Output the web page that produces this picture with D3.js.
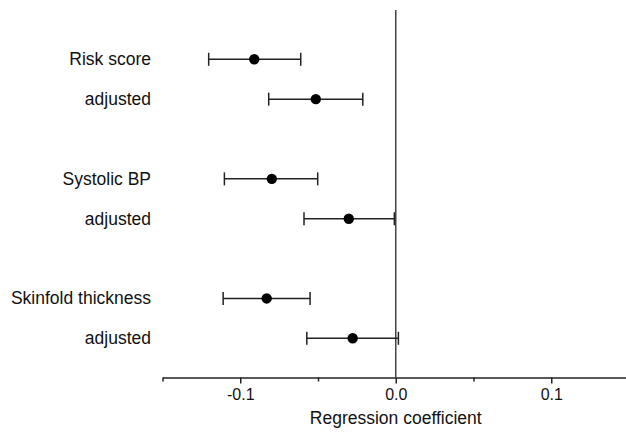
<!DOCTYPE html>
<html>
<head>
  <meta charset="UTF-8">
  <title>Regression coefficients</title>
  <style>
    body {
      margin: 0;
      padding: 0;
      background: #fff;
      font-family: "Liberation Sans", Arial, sans-serif;
    }
    svg {
      display: block;
    }
  </style>
</head>
<body>
  <svg></svg>

  <script src="https://d3js.org/d3.v7.min.js"></script>
  <script>
    let width = 626, height = 435;

    // data
    let labels = ["Risk score", "adjusted", "Systolic BP", "adjusted", "Skinfold thickness", "adjusted"];
    let slots = [0, 1, 3, 4, 6, 7];   // row positions, a blank row between groups
    let estimate = [-0.091, -0.0514, -0.0797, -0.0302, -0.083, -0.0277];
    let lower = [-0.1203, -0.0817, -0.1102, -0.059, -0.111, -0.0572];
    let upper = [-0.0611, -0.0212, -0.0502, -0.0009, -0.0551, 0.0017];
    let majorTicks = [-0.1, 0.0, 0.1];
    let minorTicks = [-0.15, -0.05, 0.05, 0.15];

    let rows = labels.map((d, i) => ({
      label: d, slot: slots[i], est: estimate[i], lo: lower[i], hi: upper[i]
    }));

    let svg = d3.select("svg")
        .attr("width", width)
        .attr("height", height);

    let x = d3.scaleLinear()
        .domain([-0.15, 0.15])
        .range([162.5, 629]);

    let y = d3.scaleLinear()
        .domain([0, 7])
        .range([59.3, 338.3]);

    let axisY = 377.5;
    let ink = "#222";
    let fmt = d => d3.format(".1f")(d).replace("\u2212", "-");  // plain hyphen like the original

    // minor ticks first, then the main axis on top
    svg.append("g")
        .attr("transform", "translate(0," + axisY + ")")
        .call(d3.axisBottom(x).tickValues(minorTicks).tickSize(4).tickFormat(""))
        .call(g => g.select(".domain").remove())
        .selectAll("line").attr("stroke", ink).attr("stroke-width", 1.5);

    let xAxis = svg.append("g")
        .attr("transform", "translate(0," + axisY + ")")
        .call(d3.axisBottom(x)
          .tickValues(majorTicks)
          .tickSize(6)
          .tickSizeOuter(0)
          .tickFormat(fmt));

    xAxis.select(".domain").attr("stroke", ink).attr("stroke-width", 1.5);
    xAxis.selectAll(".tick line").attr("stroke", ink).attr("stroke-width", 1.5);
    xAxis.selectAll(".tick text")
        .attr("y", 11)
        .attr("fill", "#111")
        .style("font-family", "'Liberation Sans', Arial, sans-serif")
        .style("font-size", "16px");

    svg.append("text")
        .attr("x", x(0))
        .attr("y", 424)
        .attr("text-anchor", "middle")
        .attr("fill", "#111")
        .style("font-size", "17.5px")
        .text("Regression coefficient");

    // zero line
    svg.append("line")
        .attr("x1", x(0)).attr("x2", x(0))
        .attr("y1", 10).attr("y2", axisY)
        .attr("stroke", "#444")
        .attr("stroke-width", 1.5);

    let row = svg.append("g")
        .selectAll("g")
        .data(rows)
        .enter()
        .append("g")
        .attr("transform", d => "translate(0," + y(d.slot) + ")");

    row.append("text")
        .attr("x", 151)
        .attr("y", 6)
        .attr("text-anchor", "end")
        .attr("fill", "#111")
        .style("font-size", "17.5px")
        .text(d => d.label);

    row.append("line")
        .attr("x1", d => x(d.lo)).attr("x2", d => x(d.hi))
        .attr("stroke", ink).attr("stroke-width", 1.5);

    row.append("line")
        .attr("x1", d => x(d.lo)).attr("x2", d => x(d.lo))
        .attr("y1", -6.5).attr("y2", 6.5)
        .attr("stroke", ink).attr("stroke-width", 1.5);

    row.append("line")
        .attr("x1", d => x(d.hi)).attr("x2", d => x(d.hi))
        .attr("y1", -6.5).attr("y2", 6.5)
        .attr("stroke", ink).attr("stroke-width", 1.5);

    row.append("circle")
        .attr("cx", d => x(d.est))
        .attr("r", 5.2)
        .attr("fill", "#000");
  </script>
</body>
</html>
